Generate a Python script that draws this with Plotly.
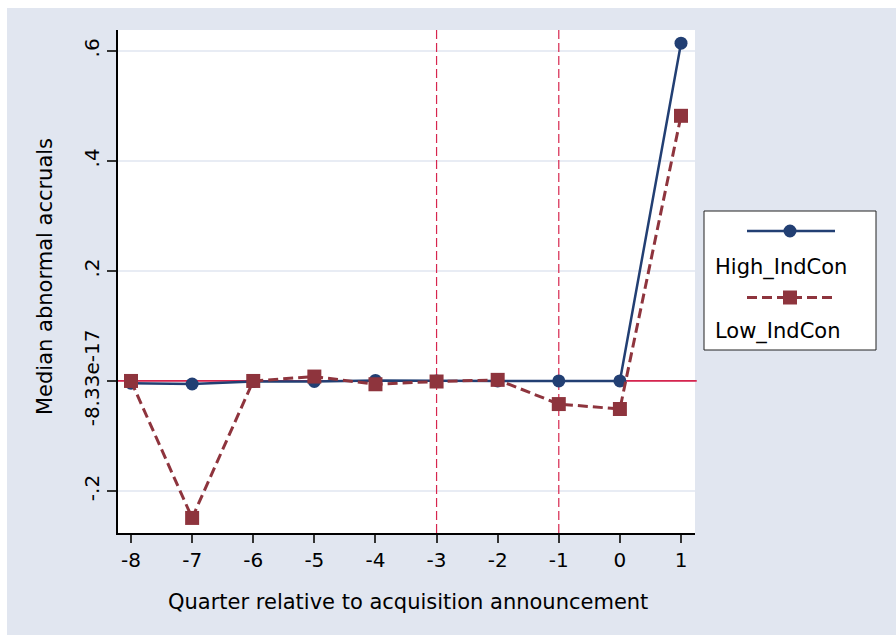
import plotly.graph_objects as go

# Quarters relative to the announcement and median abnormal accruals per group
quarters = [-8, -7, -6, -5, -4, -3, -2, -1, 0, 1]
quarter_labels = ["-8", "-7", "-6", "-5", "-4", "-3", "-2", "-1", "0", "1"]
high_indcon = [-0.004, -0.0055, -0.001, -0.001, 0.001, 0.0, 0.0, 0.0, 0.0, 0.614]
low_indcon = [0.0, -0.249, 0.0, 0.008, -0.006, -0.001, 0.002, -0.042, -0.051, 0.482]

y_ticks = [-0.2, 0.0, 0.2, 0.4, 0.6]
y_tick_labels = ["-.2", "-8.33e-17", ".2", ".4", ".6"]
event_lines = [-3, -1]

NAVY = "#223F73"
MAROON = "#8E343D"
RED = "#D7254E"
BG = "#E1E6F0"
FONT = "DejaVu Sans"

W, H = 896, 635
L, R, T, B = 118, 201, 30, 102
pw, ph = W - L - R, H - T - B


def px_x(px):
    return (px - L) / pw


def px_y(py):
    return (H - B - py) / ph


fig = go.Figure()

fig.add_trace(go.Scatter(
    x=quarters, y=high_indcon, mode="lines+markers", name="High_IndCon",
    line=dict(color=NAVY, width=2.5),
    marker=dict(symbol="circle", size=13, color=NAVY),
    showlegend=False, cliponaxis=False,
))
fig.add_trace(go.Scatter(
    x=quarters, y=low_indcon, mode="lines+markers", name="Low_IndCon",
    line=dict(color=MAROON, width=3, dash="10px,5px"),
    marker=dict(symbol="square", size=14, color=MAROON),
    showlegend=False, cliponaxis=False,
))

shapes = []
# horizontal grid lines under the data
for t in y_ticks:
    shapes.append(dict(type="line", xref="x domain", yref="y", x0=0, x1=1, y0=t, y1=t,
                       line=dict(color=BG, width=1.5), layer="below"))
# reference line at zero and event-window markers
shapes.append(dict(type="line", xref="x domain", yref="y", x0=0, x1=1.003, y0=0, y1=0,
                   line=dict(color=RED, width=1.8), layer="below"))
for q in event_lines:
    shapes.append(dict(type="line", xref="x", yref="y domain", x0=q, x1=q, y0=0, y1=1,
                       line=dict(color=RED, width=1.2, dash="9px,4px"), layer="below"))

# white border strips at top and left of the page
shapes.append(dict(type="rect", xref="paper", yref="paper", x0=px_x(-20), x1=px_x(W + 20),
                   y0=px_y(8), y1=px_y(-20), fillcolor="white", line=dict(width=0), layer="below"))
shapes.append(dict(type="rect", xref="paper", yref="paper", x0=px_x(-20), x1=px_x(7),
                   y0=px_y(H + 20), y1=px_y(-20), fillcolor="white", line=dict(width=0), layer="below"))

# legend box
shapes.append(dict(type="rect", xref="paper", yref="paper", x0=px_x(704), x1=px_x(876),
                   y0=px_y(350), y1=px_y(211), fillcolor="white",
                   line=dict(color="#222222", width=1), layer="above"))
# legend keys
shapes.append(dict(type="line", xref="paper", yref="paper", x0=px_x(747), x1=px_x(835),
                   y0=px_y(231), y1=px_y(231), line=dict(color=NAVY, width=2.5), layer="above"))
shapes.append(dict(type="circle", xref="paper", yref="paper", xsizemode="pixel", ysizemode="pixel",
                   xanchor=px_x(790), yanchor=px_y(231), x0=-6.5, x1=6.5, y0=-6.5, y1=6.5,
                   fillcolor=NAVY, line=dict(width=0), layer="above"))
shapes.append(dict(type="line", xref="paper", yref="paper", x0=px_x(747), x1=px_x(835),
                   y0=px_y(297.5), y1=px_y(297.5), line=dict(color=MAROON, width=3, dash="10px,5px"),
                   layer="above"))
shapes.append(dict(type="rect", xref="paper", yref="paper", xsizemode="pixel", ysizemode="pixel",
                   xanchor=px_x(790), yanchor=px_y(297.5), x0=-7, x1=7, y0=-7, y1=7,
                   fillcolor=MAROON, line=dict(width=0), layer="above"))

TXT = dict(family=FONT, size=21, color="black")
annotations = [
    dict(text="High_IndCon", xref="paper", yref="paper", x=px_x(713), y=px_y(267),
         xanchor="left", yanchor="middle", showarrow=False, font=TXT),
    dict(text="Low_IndCon", xref="paper", yref="paper", x=px_x(713), y=px_y(331),
         xanchor="left", yanchor="middle", showarrow=False, font=TXT),
    dict(text="Quarter relative to acquisition announcement", xref="paper", yref="paper",
         x=px_x(408), y=px_y(602), xanchor="center", yanchor="middle", showarrow=False,
         font=TXT),
    dict(text="Median abnormal accruals", xref="paper", yref="paper", textangle=-90,
         x=px_x(45), y=px_y(277), xanchor="center", yanchor="middle", showarrow=False,
         font=TXT),
]

fig.update_layout(
    width=W, height=H,
    margin=dict(l=L, r=R, t=T, b=B, pad=0),
    paper_bgcolor=BG, plot_bgcolor="white",
    shapes=shapes, annotations=annotations,
    showlegend=False,
    font=TXT,
    xaxis=dict(
        range=[-8.213, 1.229], tickmode="array", tickvals=quarters, ticktext=quarter_labels,
        showgrid=False, zeroline=False,
        showline=True, linecolor="black", linewidth=1.5,
        ticks="outside", ticklen=8, tickwidth=1.5, tickcolor="#333333",
        tickfont=dict(family=FONT, size=20, color="black"),
    ),
    yaxis=dict(
        range=[-0.2764, 0.638], tickmode="array", tickvals=y_ticks, ticktext=y_tick_labels,
        tickangle=-90,
        showgrid=False, zeroline=False,
        showline=True, linecolor="black", linewidth=1.5,
        ticks="outside", ticklen=9, tickwidth=1.5, tickcolor="#333333",
        tickfont=dict(family=FONT, size=20, color="black"),
    ),
)

fig.write_html("out.html")
